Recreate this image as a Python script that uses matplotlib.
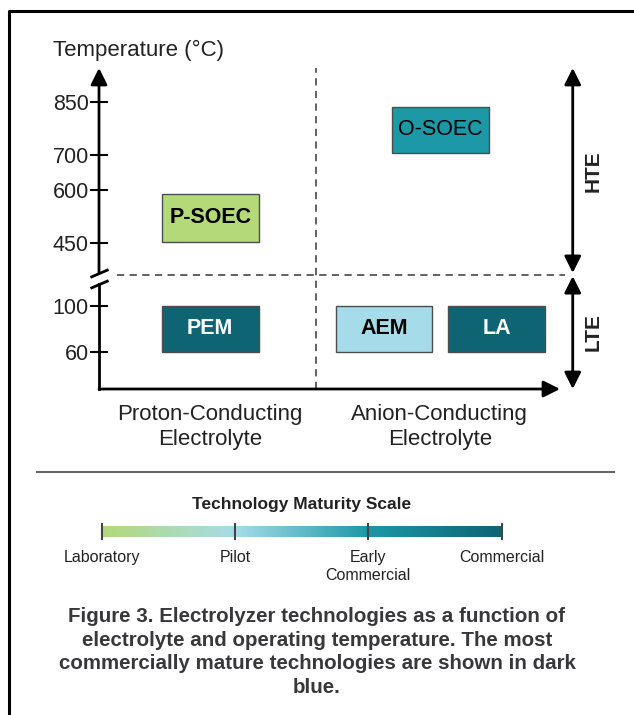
import numpy as np
import matplotlib.pyplot as plt
from matplotlib.colors import LinearSegmentedColormap
from matplotlib.lines import Line2D
from matplotlib.patches import Rectangle

plt.rcParams['font.family'] = ['Liberation Sans', 'DejaVu Sans']
TXT = '#222222'

# ---- data ----
stages = ['Laboratory', 'Pilot', 'Early\nCommercial', 'Commercial']
stage_colors = ['#b3d978', '#a6dce9', '#1c98a7', '#0e6473']

categories = ['Proton-Conducting\nElectrolyte', 'Anion-Conducting\nElectrolyte']
category_pos = [0.51, 1.57]

techs = ['P-SOEC', 'O-SOEC', 'PEM', 'AEM', 'LA']
tech_x = [0.29, 1.35, 0.29, 1.09, 1.61]
tech_w = [0.445, 0.445, 0.445, 0.445, 0.445]
temp_lo = [455, 705, 60, 60, 60]
temp_hi = [590, 835, 100, 100, 100]
maturity = [0, 2, 3, 1, 3]          # index into stages

hi_ticks = [450, 600, 700, 850]
lo_ticks = [60, 100]

caption = ("Figure 3. Electrolyzer technologies as a function of\n"
           "electrolyte and operating temperature. The most\n"
           "commercially mature technologies are shown in dark\n"
           "blue.")

# ---- figure ----
W, H = 634, 715
fig = plt.figure(figsize=(W / 100, H / 100), dpi=100)

def fax(l, t, r, b):
    return fig.add_axes([l / W, 1 - b / H, (r - l) / W, (b - t) / H])

ax_hi = fax(99, 68, 560, 275)
ax_lo = fax(99, 275, 560, 389)
ax_hi.set_ylim(360.5, 945)
ax_lo.set_ylim(27.6, 126.7)

for ax in (ax_hi, ax_lo):
    ax.set_xlim(0, 2.124)
    ax.patch.set_alpha(0)
    for s in ('top', 'right', 'bottom'):
        ax.spines[s].set_visible(False)
    ax.tick_params(axis='y', direction='inout', length=12.5, width=1.5,
                   pad=1, labelsize=15.5, labelcolor=TXT)
    ax.axvline(1.0, color='#555555', lw=1.3, ls=(0, (4, 3)))

ax_hi.spines['left'].set_visible(False)
ax_hi.set_xticks([])
ax_hi.set_yticks(hi_ticks)
ax_lo.set_yticks(lo_ticks)
ax_lo.spines['left'].set_linewidth(2)
ax_lo.spines['left'].set_bounds(27.6, 118.9)
ax_lo.set_xticks(category_pos, categories)
ax_lo.tick_params(axis='x', length=0, pad=11, labelsize=16, labelcolor=TXT)
for lab in ax_lo.get_xticklabels():
    lab.set_linespacing(1.25)

arrow = dict(arrowstyle='-|>,head_length=0.5,head_width=0.25', lw=2,
             color='k', shrinkA=0, shrinkB=0, mutation_scale=20)
ax_hi.annotate('', xy=(0, 945), xytext=(0, 366), arrowprops=arrow,
               annotation_clip=False)
ax_lo.annotate('', xy=(2.124, 27.6), xytext=(0, 27.6), arrowprops=arrow,
               annotation_clip=False)

# axis break marks
brk = dict(marker=[(-1, -0.43), (1, 0.43)], markersize=13, mew=2,
           color='k', ls='none', clip_on=False)
ax_hi.plot([0], [366], **brk)
ax_lo.plot([0], [118.9], **brk)

# HTE / LTE boundary
ax_hi.axhline(ax_hi.get_ylim()[0], xmin=0.04, xmax=1.01, color='#555555',
              lw=1.3, ls=(0, (4, 3)), clip_on=False)

darrow = dict(arrowstyle='<|-|>,head_length=0.5,head_width=0.25', lw=2,
              color='k', shrinkA=0, shrinkB=0, mutation_scale=20)
ax_hi.annotate('', xy=(1.0276, 1.0), xytext=(1.0276, 0.01),
               xycoords='axes fraction', arrowprops=darrow)
ax_lo.annotate('', xy=(1.0276, 0.0), xytext=(1.0276, 0.99),
               xycoords='axes fraction', arrowprops=darrow)
for ax, lab in ((ax_hi, 'HTE'), (ax_lo, 'LTE')):
    ax.text(1.0716, 0.5, lab, transform=ax.transAxes, rotation=90,
            ha='center', va='center', fontsize=15, fontweight='bold', color=TXT)

# technology boxes
for name, x, w, lo, hi, m in zip(techs, tech_x, tech_w, temp_lo, temp_hi, maturity):
    ax = ax_hi if lo > 300 else ax_lo
    ax.add_patch(Rectangle((x, lo), w, hi - lo, facecolor=stage_colors[m],
                           edgecolor='#4d4d4d', lw=1))
    ax.text(x + w / 2, (lo + hi) / 2, name, ha='center', va='center',
            fontsize=15.5, color='white' if m == 3 else 'black',
            fontweight='normal' if name == 'O-SOEC' else 'bold')

fig.text(53 / W, 1 - 50 / H, 'Temperature (°C)', ha='left', va='center',
         fontsize=16, color=TXT)

# separator
fig.add_artist(Line2D([37 / W, 614 / W], [1 - 472 / H] * 2, color='#666666', lw=1.5))

# maturity scale
ax_bar = fax(101.7, 526, 501.7, 537)
pos = np.arange(len(stages))
cmap = LinearSegmentedColormap.from_list('maturity', stage_colors)
ax_bar.imshow(np.linspace(0, 1, 256)[None, :], extent=(0, pos[-1], 0, 1),
              aspect='auto', cmap=cmap)
ax_bar.set_xlim(0, pos[-1])
ax_bar.set_ylim(0, 1)
for s in ax_bar.spines.values():
    s.set_visible(False)
ax_bar.set_yticks([])
ax_bar.set_xticks(pos, stages)
ax_bar.tick_params(axis='x', length=0, pad=9.5, labelsize=11.5, labelcolor=TXT)
for p in pos:
    ax_bar.axvline(p, ymin=-0.18, ymax=1.18, color='#444444', lw=1.5, clip_on=False)
ax_bar.set_title('Technology Maturity Scale', fontsize=12.5, fontweight='bold',
                 color=TXT, pad=12)

fig.text(317 / W, 1 - 652 / H, caption, ha='center', va='center',
         fontsize=14.8, fontweight='bold', color='#38383b', linespacing=1.3)

# frame
fig.add_artist(Line2D([9 / W, 9 / W, 1.0], [0, 1 - 11 / H, 1 - 11 / H],
                      color='k', lw=2.2))

fig.savefig('out.png', dpi=100)
